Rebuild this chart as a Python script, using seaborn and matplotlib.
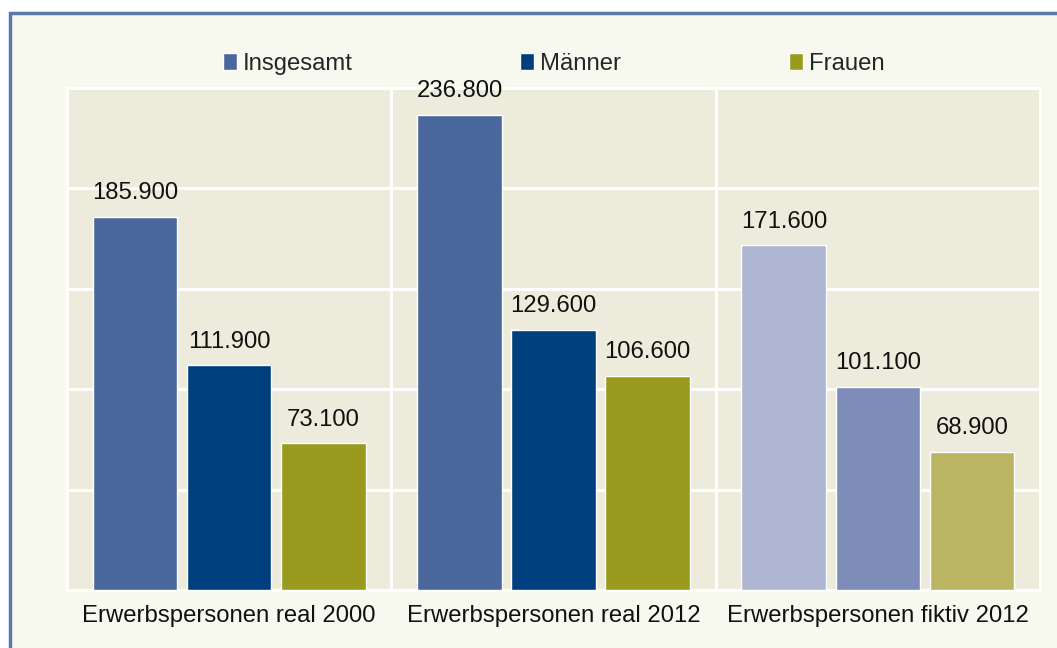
import pandas as pd
import matplotlib.pyplot as plt
import seaborn as sns
from matplotlib.patches import Rectangle

# Daten
kategorien = ['Erwerbspersonen real 2000', 'Erwerbspersonen real 2012', 'Erwerbspersonen fiktiv 2012']
gruppen = ['Insgesamt', 'Männer', 'Frauen']
insgesamt = [185900, 236800, 171600]
maenner = [111900, 129600, 101100]
frauen = [73100, 106600, 68900]

farben = ['#4A679C', '#003F7D', '#999B1F']
farben_fiktiv = ['#AFB7D3', '#7E8DB7', '#BAB563']

df = pd.DataFrame({
    'Kategorie': kategorien * 3,
    'Gruppe': [g for g in gruppen for _ in kategorien],
    'Wert': insgesamt + maenner + frauen,
})

sns.set_theme(style='white')
plt.rcParams['font.family'] = ['Liberation Sans', 'DejaVu Sans']

fig = plt.figure(figsize=(10.57, 6.48), dpi=100)
fig.patch.set_facecolor('white')
# Rahmen um die Grafik
fig.patches.append(Rectangle((10 / 1057, -0.05), 1.1, 1 - 13 / 648 + 0.05,
                             transform=fig.transFigure, facecolor='#F7F9EE',
                             edgecolor='#5B76A9', linewidth=2.5, zorder=-5))

ax = fig.add_axes([67 / 1057, 1 - 590 / 648, (1040 - 67) / 1057, (590 - 88) / 648])
ax.set_facecolor('#EDEBDB')

sns.barplot(data=df, x='Kategorie', y='Wert', hue='Gruppe', palette=farben,
            width=0.87, gap=0.1, saturation=1, ax=ax, zorder=3)

# fiktive Werte heller einfärben
for i, cont in enumerate(ax.containers):
    cont.patches[2].set_facecolor(farben_fiktiv[i])
    labels = [f'{v:,.0f}'.replace(',', '.') for v in cont.datavalues]
    ax.bar_label(cont, labels=labels, padding=9, fontsize=17.2, color='#111111')

ax.set_ylim(0, 250000)
ax.set_yticks(range(0, 250001, 50000))
ax.set_yticklabels([])
ax.tick_params(axis='y', length=0)
ax.tick_params(axis='x', length=0, pad=11, labelsize=17.2, labelcolor='#111111')
ax.set_xlim(-0.5, 2.5)
ax.grid(axis='y', color='white', linewidth=2.2, zorder=1)
for x in [0.5, 1.5]:
    ax.axvline(x, color='white', linewidth=2.2, zorder=1)
ax.set_axisbelow(True)
for s in ax.spines.values():
    s.set_color('white')
    s.set_linewidth(2.2)
ax.set_xlabel('')
ax.set_ylabel('')

ax.legend(loc='center', bbox_to_anchor=(0.5, 1 + 24 / 502), ncol=3, frameon=False,
          fontsize=17.2, handlelength=0.6, handleheight=0.75, handletextpad=0.25,
          columnspacing=7.0, borderaxespad=0)

fig.savefig('out.png', dpi=100)
